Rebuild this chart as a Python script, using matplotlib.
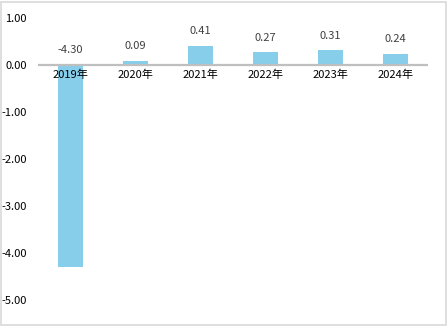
import matplotlib.pyplot as plt
from matplotlib.patches import Rectangle

plt.rcParams['font.family'] = ['Noto Sans CJK SC', 'DejaVu Sans']

years = ["2019年", "2020年", "2021年", "2022年", "2023年", "2024年"]
values = [-4.30, 0.09, 0.41, 0.27, 0.31, 0.24]
yticks = [1.0, 0.0, -1.0, -2.0, -3.0, -4.0, -5.0]

BAR = "#87CEEB"
AXIS = "#BFBFBF"

fig = plt.figure(figsize=(4.48, 3.26), dpi=100)
ax = fig.add_axes([38 / 448, 1 - 300 / 326, 390 / 448, 282 / 326])

x = range(len(years))
ax.bar(x, values, width=0.38, color=BAR, zorder=2)
ax.axhline(0, color=AXIS, lw=1.6, zorder=3)

for i, (lab, v) in enumerate(zip(years, values)):
    ax.annotate(f"{v:.2f}", (i, max(v, 0)), xytext=(0, 7), textcoords="offset points",
                ha="center", va="bottom", fontsize=8, color="#404040")
    ax.annotate(lab, (i, 0), xytext=(0, -3), textcoords="offset points",
                ha="center", va="top", fontsize=8, color="black")

ax.set_xlim(-0.5, len(years) - 0.5)
ax.set_ylim(-5, 1)
ax.set_yticks(yticks)
ax.set_yticklabels([f"{t:.2f}" for t in yticks], fontsize=8)
ax.tick_params(axis="y", length=0, pad=8)
ax.set_xticks([])
for s in ax.spines.values():
    s.set_visible(False)

fig.patches.append(Rectangle((0.002, 0.003), 0.994, 0.992, transform=fig.transFigure,
                             fill=False, edgecolor="#D9D9D9", lw=1.2))

fig.savefig("out.png", dpi=100)
